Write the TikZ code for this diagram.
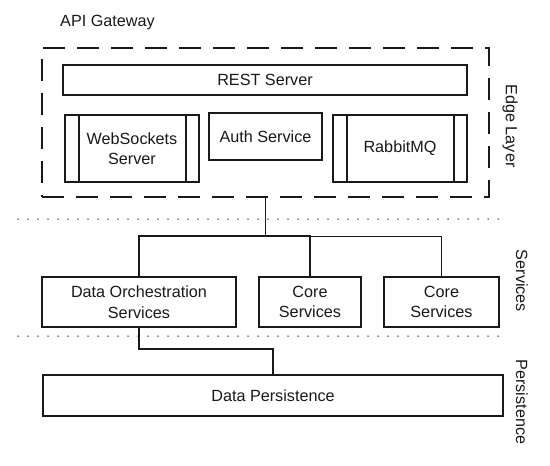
\documentclass[tikz,border=0pt]{standalone}
\usepackage{fontspec}
\setmainfont{Liberation Sans}
\usetikzlibrary{positioning}
\definecolor{ink}{RGB}{25,25,25}
\definecolor{dots}{RGB}{20,20,20}
\tikzset{
  box/.style={draw=ink,fill=white,line width=1.8pt,align=center,
    text=ink,font=\fontsize{16.2}{20.5}\selectfont,inner sep=0pt,
    minimum width=#1},
  procbox/.style={box=#1,path picture={
    \draw[ink,line width=1.2pt]
      ([xshift=14pt]path picture bounding box.north west) -- ([xshift=14pt]path picture bounding box.south west)
      ([xshift=-13pt]path picture bounding box.north east) -- ([xshift=-13pt]path picture bounding box.south east);
  }},
  group/.style={draw=ink,line width=1.8pt,dash pattern=on 22pt off 12pt,
    minimum width=447pt,minimum height=149pt,inner sep=0pt},
  link/.style={draw=ink,line width=1.8pt},
  thin link/.style={draw=ink,line width=1pt},
  divider/.style={draw=dots,line width=1.5pt,line cap=round,dash pattern=on 0pt off 10pt},
  lbl/.style={text=ink,font=\fontsize{16.2}{20.5}\selectfont,inner sep=0pt},
}
\begin{document}
\begin{tikzpicture}[x=1pt,y=-1pt]
  \useasboundingbox (0,0) rectangle (550,466);
  % edge layer
  \node[lbl,anchor=west] (gwlabel) at (60,23) {API Gateway};
  \node[group] (edge) at (265.5,122.5) {};
  \node[box=404pt,minimum height=30pt] (rest) at (265,80) {REST Server};
  \node[procbox=134pt,minimum height=67pt] (wss) at (132,148.5) {WebSockets\\Server};
  \node[box=113pt,minimum height=47pt] (auth) at (265.5,136.5) {Auth Service};
  \node[procbox=134pt,minimum height=67pt] (rabbit) at (400,148.5) {RabbitMQ};
  \node[lbl,rotate=-90] (edgelabel) at (510,126) {Edge Layer};
  \draw[divider] (18,219) -- (508,219);
  % services
  \node[box=194pt,minimum height=50pt] (orch) at (139,302) {Data Orchestration\\Services};
  \node[box=102pt,minimum height=50pt] (core1) at (310,302) {Core\\Services};
  \node[box=115pt,minimum height=50pt] (core2) at (441.5,302) {Core\\Services};
  \node[lbl,rotate=-90] (svclabel) at (522,281) {Services};
  \coordinate (bus) at (265.5,236);
  \draw[link] (edge.south) -- (edge.south |- bus) -| (orch.north);
  \draw[link] (edge.south |- bus) -| (core1.north);
  \draw[thin link] (core1.north |- bus) -| (core2.north);
  \draw[divider] (18,336) -- (508,336);
  % persistence
  \node[box=460pt,minimum height=41pt] (persist) at (273,395.5) {Data Persistence};
  \node[lbl,rotate=-90] (perslabel) at (522,402) {Persistence};
  \draw[link] (orch.south) -- ++(0,21) -| (persist.north);
\end{tikzpicture}
\end{document}
